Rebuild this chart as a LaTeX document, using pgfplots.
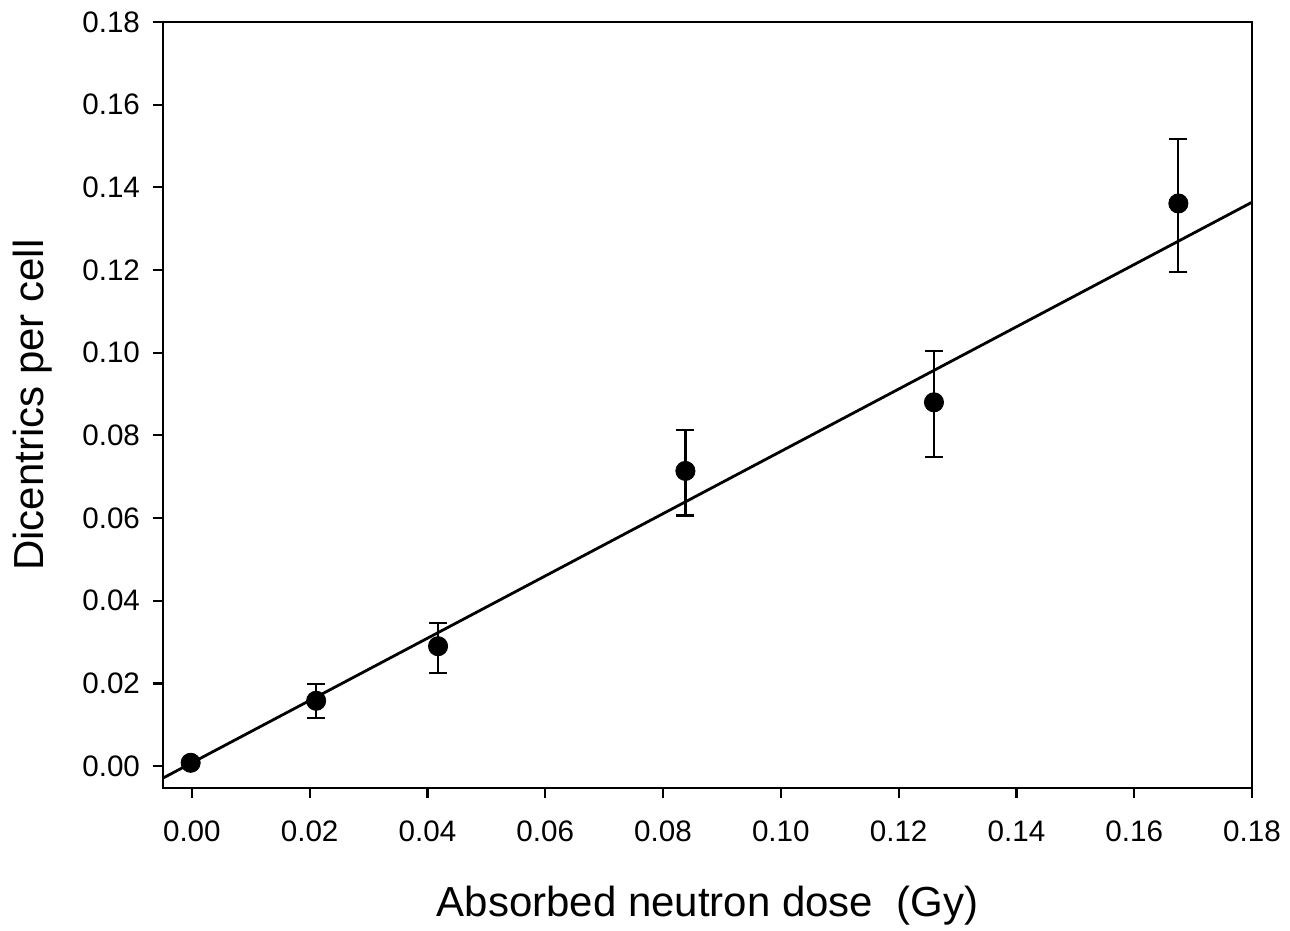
\documentclass[border=0pt]{standalone}
\usepackage{pgfplots}
\pgfplotsset{compat=1.18}
\usepackage{fontspec}
\setmainfont{Liberation Sans}
\begin{document}
\begin{tikzpicture}
\begin{axis}[
  at={(0,0)}, anchor=south west,
  width=544.5pt, height=383pt, scale only axis,
  xmin=-0.0049, xmax=0.18, ymin=-0.0053, ymax=0.18,
  xtick={0,0.02,...,0.18}, ytick={0,0.02,...,0.18},
  xticklabel style={/pgf/number format/.cd, fixed, fixed zerofill, precision=2},
  yticklabel style={/pgf/number format/.cd, fixed, fixed zerofill, precision=2},
  /pgf/number format/assume math mode=true,
  ticklabel style={font=\fontsize{14.8}{16}\selectfont},
  tick align=outside, tick pos=left,
  major tick length=5pt,
  every tick/.style={black, line width=1.1pt},
  axis line style={line width=1.4pt},
  xticklabel shift=8pt, yticklabel shift=3pt,
  xlabel={Absorbed neutron dose\ \ (Gy)},
  ylabel={Dicentrics per cell},
  label style={font=\fontsize{21}{24}\selectfont},
  xlabel style={at={(axis description cs:0.5,-0.153)}, anchor=center},
  ylabel style={at={(axis description cs:-0.120,0.5)}, anchor=center, rotate=0},
  clip=true,
]
\addplot[black, line width=1.4pt] coordinates {(-0.0049,-0.0029) (0.18,0.1364)};
\addplot[only marks, mark=*, mark size=4.8pt, black,
  error bars/.cd, y dir=both, y explicit,
  error bar style={line width=1.1pt}, error mark options={rotate=90, mark size=4.5pt, line width=1.1pt}]
  table[x=x, y=y, y error plus=ep, y error minus=em] {
x       y       ep      em
-0.0002 0.0008  0       0
0.0211  0.0158  0.0041  0.0042
0.0418  0.0290  0.0057  0.0065
0.0838  0.0714  0.0099  0.0108
0.1260  0.0880  0.0125  0.0133
0.1675  0.1361  0.0155  0.0166
};
\end{axis}
\pgfresetboundingbox
\useasboundingbox (-81.5pt,-71.5pt) rectangle (563.5pt,394pt);
\end{tikzpicture}
\end{document}
